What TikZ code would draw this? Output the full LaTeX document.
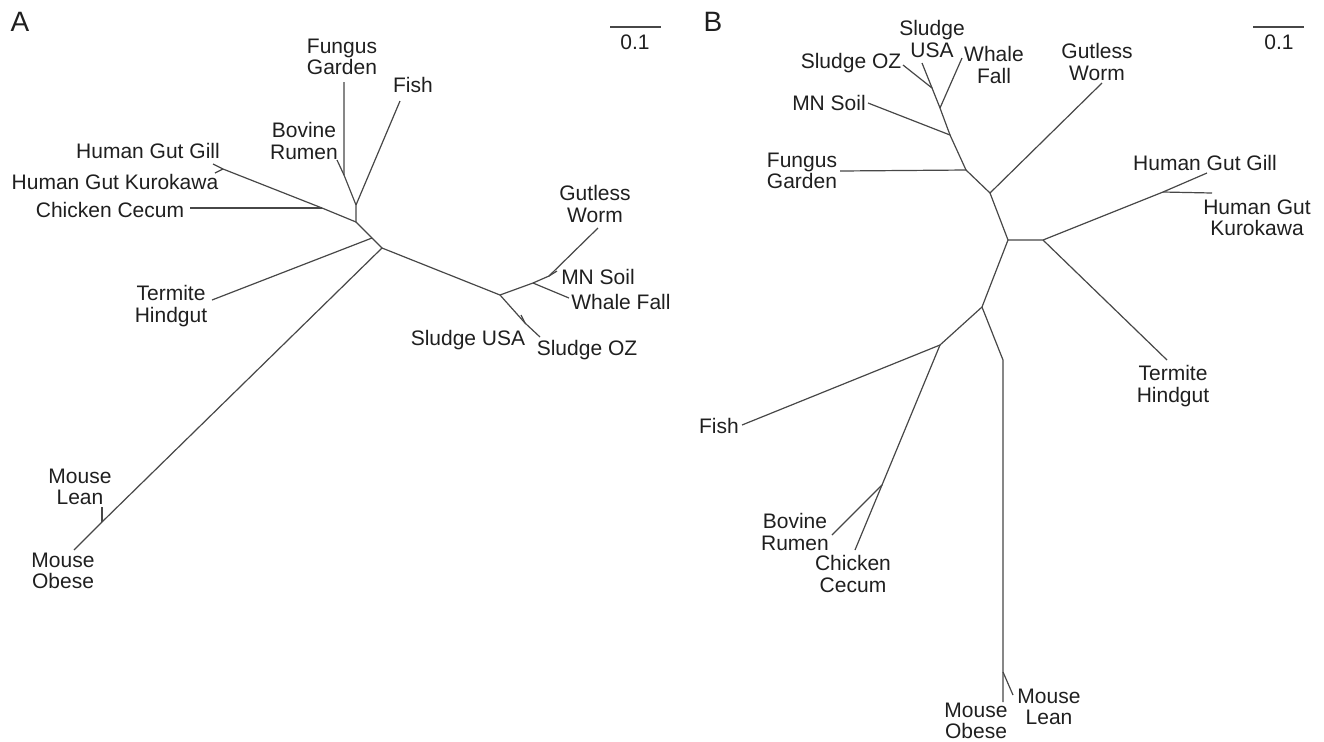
\documentclass[tikz,border=0pt]{standalone}
\usepackage{fontspec}
\setmainfont{Liberation Sans}
\begin{document}
\begin{tikzpicture}[x=0.5pt,y=-0.5pt,
  br/.style={draw=black!72, line width=0.6pt},
  lbl/.style={font=\fontsize{10.5}{10.6}\selectfont, inner sep=0pt, align=center, text=black!88},
  panel/.style={font=\fontsize{14}{14}\selectfont, inner sep=0pt, text=black!88}]
\useasboundingbox (0,0) rectangle (1324,741);
% ---------------- Panel A ----------------
\node[panel] (A) at (20,22) {A};
\coordinate (sa1) at (610,27); \coordinate (sa2) at (661,27);
\draw[br] (sa1) -- (sa2);
\node[lbl] (sla) at (635,42) {0.1};
% internal nodes
\coordinate (a1) at (382,248);
\coordinate (a2) at (372,238);
\coordinate (a3) at (356,222);
\coordinate (a4) at (356,205);
\coordinate (a5) at (344,175);
\coordinate (a6) at (322,208);
\coordinate (a7) at (223,169);
\coordinate (a8) at (500,295);
\coordinate (a9) at (533,283);
\coordinate (a10) at (549,276);
\coordinate (a11) at (525,323);
\coordinate (a12) at (102,522);
% leaves
\coordinate (FG) at (344,82);
\coordinate (BR) at (337,160);
\coordinate (FI) at (400,101);
\coordinate (HGG) at (213,164);
\coordinate (HGK) at (215,173);
\coordinate (CC) at (190,208);
\coordinate (TH) at (212,300);
\coordinate (ML) at (102,507);
\coordinate (MO) at (74,550);
\coordinate (GW) at (598,228);
\coordinate (MN) at (557,271);
\coordinate (WF) at (569,298);
\coordinate (SU) at (521,315);
\coordinate (SO) at (540,337);
\draw[br] (a1) -- (a2) -- (a3) -- (a4) -- (a5) -- (FG);
\draw[br] (a5) -- (BR);
\draw[br] (a4) -- (FI);
\draw[br] (a3) -- (a6) -- (a7) -- (HGG);
\draw[br] (a7) -- (HGK);
\draw[br] (a6) -- (CC);
\draw[br] (a2) -- (TH);
\draw[br] (a1) -- (a12) -- (MO);
\draw[br] (a12) -- (ML);
\draw[br] (a1) -- (a8) -- (a9) -- (a10) -- (GW);
\draw[br] (a10) -- (MN);
\draw[br] (a9) -- (WF);
\draw[br] (a8) -- (a11) -- (SO);
\draw[br] (a11) -- (SU);
% labels
\node[lbl] (lFG) at (342,57) {Fungus\\Garden};
\node[lbl] (lFI) at (413,85) {Fish};
\node[lbl] (lBR) at (304,141) {Bovine\\Rumen};
\node[lbl] (lHGG) at (148,151) {Human Gut Gill};
\node[lbl] (lHGK) at (115,182) {Human Gut Kurokawa};
\node[lbl] (lCC) at (110,210) {Chicken Cecum};
\node[lbl] (lTH) at (171,306) {Termite\\Hindgut};
\node[lbl] (lML) at (80,487) {Mouse\\Lean};
\node[lbl] (lMO) at (63,571) {Mouse\\Obese};
\node[lbl] (lGW) at (595,204) {Gutless\\Worm};
\node[lbl] (lMN) at (598,277) {MN Soil};
\node[lbl] (lWF) at (621,302) {Whale Fall};
\node[lbl] (lSU) at (468,340) {Sludge USA};
\node[lbl] (lSO) at (587,350) {Sludge OZ};
% ---------------- Panel B ----------------
\node[panel] (B) at (713,22) {B};
\coordinate (sb1) at (1253,27); \coordinate (sb2) at (1304,27);
\draw[br] (sb1) -- (sb2);
\node[lbl] (slb) at (1279,42) {0.1};
\coordinate (b1) at (1008,240);
\coordinate (b2) at (1043,240);
\coordinate (b3) at (990,193);
\coordinate (b4) at (966,170);
\coordinate (b5) at (950,135);
\coordinate (b6) at (940,108);
\coordinate (b7) at (932,88);
\coordinate (b8) at (982,307);
\coordinate (b9) at (940,345);
\coordinate (b10) at (882,485);
\coordinate (b11) at (1003,360);
\coordinate (b12) at (1003,672);
\coordinate (b13) at (1163,192);
\coordinate (GWb) at (1102,83);
\coordinate (SOb) at (903,65);
\coordinate (SUb) at (922,63);
\coordinate (WFb) at (962,58);
\coordinate (MNb) at (868,103);
\coordinate (FGb) at (840,171);
\coordinate (HGGb) at (1207,173);
\coordinate (HGKb) at (1212,193);
\coordinate (THb) at (1167,360);
\coordinate (FIb) at (742,425);
\coordinate (BRb) at (832,535);
\coordinate (CCb) at (855,550);
\coordinate (MLb) at (1013,695);
\coordinate (MOb) at (1003,702);
\draw[br] (b1) -- (b2) -- (b13) -- (HGGb);
\draw[br] (b13) -- (HGKb);
\draw[br] (b2) -- (THb);
\draw[br] (b1) -- (b3) -- (GWb);
\draw[br] (b3) -- (b4) -- (FGb);
\draw[br] (b4) -- (b5) -- (MNb);
\draw[br] (b5) -- (b6) -- (WFb);
\draw[br] (b6) -- (b7) -- (SOb);
\draw[br] (b7) -- (SUb);
\draw[br] (b1) -- (b8) -- (b9) -- (FIb);
\draw[br] (b9) -- (b10) -- (BRb);
\draw[br] (b10) -- (CCb);
\draw[br] (b8) -- (b11) -- (b12) -- (MOb);
\draw[br] (b12) -- (MLb);
\node[lbl] (lSOb) at (851,63) {Sludge OZ};
\node[lbl] (lSUb) at (932,39) {Sludge\\USA};
\node[lbl] (lWFb) at (994,65) {Whale\\Fall};
\node[lbl] (lMNb) at (829,103) {MN Soil};
\node[lbl] (lFGb) at (802,171) {Fungus\\Garden};
\node[lbl] (lGWb) at (1097,62) {Gutless\\Worm};
\node[lbl] (lHGGb) at (1205,163) {Human Gut Gill};
\node[lbl] (lHGKb) at (1257,218) {Human Gut\\Kurokawa};
\node[lbl] (lTHb) at (1173,386) {Termite\\Hindgut};
\node[lbl] (lFIb) at (719,426) {Fish};
\node[lbl] (lBRb) at (795,532) {Bovine\\Rumen};
\node[lbl] (lCCb) at (853,574) {Chicken\\Cecum};
\node[lbl] (lMLb) at (1049,707) {Mouse\\Lean};
\node[lbl] (lMOb) at (976,721) {Mouse\\Obese};
\end{tikzpicture}
\end{document}
